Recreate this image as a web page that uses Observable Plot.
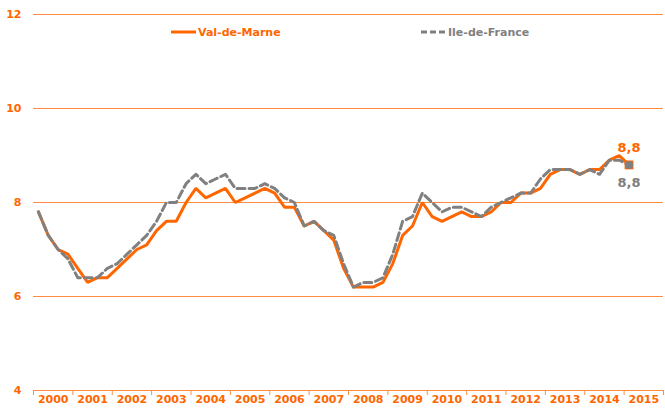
<!DOCTYPE html>
<html>
<head>
<meta charset="utf-8">
<script src="https://cdn.jsdelivr.net/npm/d3@7"></script>
<script src="https://cdn.jsdelivr.net/npm/@observablehq/plot@0.6"></script>
<style>
  html, body { margin: 0; padding: 0; background: #fff; }
</style>
</head>
<body>
<div id="chart"></div>
<script>
// Year tick labels
const years = [2000, 2001, 2002, 2003, 2004, 2005, 2006, 2007, 2008, 2009, 2010, 2011, 2012, 2013, 2014, 2015];
// Y ticks
const yTicks = [4, 6, 8, 10, 12];
// Series names
const seriesNames = ["Val-de-Marne", "Ile-de-France"];
// Quarterly values, 2000 Q1 .. 2015 Q1
const valDeMarne = [
  7.8, 7.3, 7.0, 6.9,
  6.6, 6.3, 6.4, 6.4,
  6.6, 6.8, 7.0, 7.1,
  7.4, 7.6, 7.6, 8.0,
  8.3, 8.1, 8.2, 8.3,
  8.0, 8.1, 8.2, 8.3,
  8.2, 7.9, 7.9, 7.5,
  7.6, 7.4, 7.2, 6.6,
  6.2, 6.2, 6.2, 6.3,
  6.7, 7.3, 7.5, 8.0,
  7.7, 7.6, 7.7, 7.8,
  7.7, 7.7, 7.8, 8.0,
  8.0, 8.2, 8.2, 8.3,
  8.6, 8.7, 8.7, 8.6,
  8.7, 8.7, 8.9, 9.0,
  8.8
];
const ileDeFrance = [
  7.8, 7.3, 7.0, 6.8,
  6.4, 6.4, 6.4, 6.6,
  6.7, 6.9, 7.1, 7.3,
  7.6, 8.0, 8.0, 8.4,
  8.6, 8.4, 8.5, 8.6,
  8.3, 8.3, 8.3, 8.4,
  8.3, 8.1, 8.0, 7.5,
  7.6, 7.4, 7.3, 6.7,
  6.2, 6.3, 6.3, 6.4,
  6.9, 7.6, 7.7, 8.2,
  8.0, 7.8, 7.9, 7.9,
  7.8, 7.7, 7.9, 8.0,
  8.1, 8.2, 8.2, 8.5,
  8.7, 8.7, 8.7, 8.6,
  8.7, 8.6, 8.9, 8.9,
  8.8
];

const ORANGE = "#FF6600";
const GRID = "#FF8C42";
const GREY = "#808080";

const quarterX = (i) => years[0] + (i + 0.5) / 4;
const vdm = valDeMarne.map((v, i) => ({x: quarterX(i), y: v}));
const idf = ileDeFrance.map((v, i) => ({x: quarterX(i), y: v}));
const lastV = vdm[vdm.length - 1];
const lastI = idf[idf.length - 1];
const fmt = (v) => v.toFixed(1).replace(".", ",");
const bounds = years.concat([years[years.length - 1] + 1]);

const chart = Plot.plot({
  width: 665,
  height: 409,
  marginLeft: 33,
  marginRight: 2,
  marginTop: 14,
  marginBottom: 19,
  x: {domain: [bounds[0], bounds[bounds.length - 1]]},
  y: {domain: [4, 12]},
  style: {fontFamily: "DejaVu Sans", fontSize: "11px", fontWeight: "bold", background: "#fff"},
  marks: [
    Plot.ruleY(yTicks, {stroke: GRID, strokeWidth: 1}),
    Plot.axisY({ticks: yTicks, tickSize: 0, tickPadding: 12, color: ORANGE, label: null}),
    Plot.axisX({ticks: bounds, tickSize: 5, tickFormat: () => "", color: GRID, label: null}),
    Plot.axisX({ticks: years.map(y => y + 0.5), tickSize: 0, tickPadding: 5, tickFormat: d => String(Math.floor(d)), color: ORANGE, label: null}),
    Plot.line(vdm, {x: "x", y: "y", stroke: ORANGE, strokeWidth: 3, strokeLinejoin: "miter"}),
    Plot.line(idf, {x: "x", y: "y", stroke: GREY, strokeWidth: 3, strokeDasharray: "8,4"}),
    Plot.dot([lastV], {x: "x", y: "y", symbol: "square", r: 5, fill: ORANGE, stroke: null}),
    Plot.dot([lastI], {x: "x", y: "y", r: 4, fill: GREY, stroke: null}),
    Plot.text([lastV], {x: "x", y: "y", text: d => fmt(d.y), dy: -17, fill: ORANGE, fontSize: 13, fontWeight: "bold"}),
    Plot.text([lastI], {x: "x", y: "y", text: d => fmt(d.y), dy: 18, fill: GREY, fontSize: 13, fontWeight: "bold"})
  ]
});

// Legend inside the plot area
const svg = d3.select(chart);
const lg = svg.append("g").attr("font-family", "DejaVu Sans").attr("font-size", 11)
  .attr("font-weight", "bold").attr("text-anchor", "start");
lg.append("line").attr("x1", 171).attr("x2", 196).attr("y1", 32).attr("y2", 32)
  .attr("stroke", ORANGE).attr("stroke-width", 3);
lg.append("text").attr("x", 198).attr("y", 36).attr("fill", ORANGE).attr("text-anchor", "start").text(seriesNames[0]);
lg.append("line").attr("x1", 421).attr("x2", 446).attr("y1", 32).attr("y2", 32)
  .attr("stroke", GREY).attr("stroke-width", 3).attr("stroke-dasharray", "6,3");
lg.append("text").attr("x", 448).attr("y", 36).attr("fill", GREY).attr("text-anchor", "start").text(seriesNames[1]);

document.getElementById("chart").appendChild(chart);
</script>
</body>
</html>
